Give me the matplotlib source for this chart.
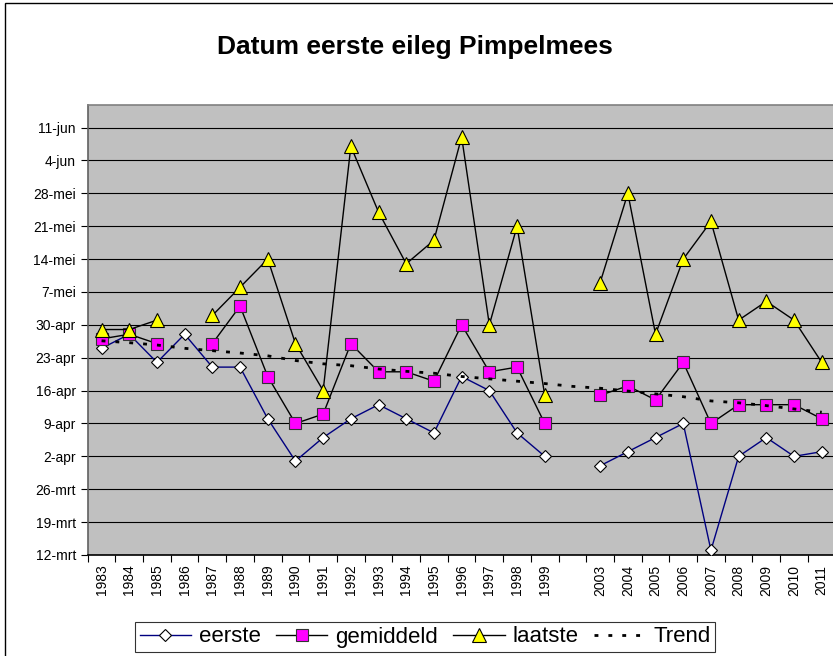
import numpy as np
import matplotlib.pyplot as plt
from matplotlib.patches import Rectangle

plt.rcParams['font.family'] = ['Liberation Sans', 'DejaVu Sans']

# categorieen (lege plek tussen 1999 en 2003)
jaren = ['1983', '1984', '1985', '1986', '1987', '1988', '1989', '1990', '1991',
         '1992', '1993', '1994', '1995', '1996', '1997', '1998', '1999', '',
         '2003', '2004', '2005', '2006', '2007', '2008', '2009', '2010', '2011']

eerste = ['25-apr', '28-apr', '22-apr', '28-apr', '21-apr', '21-apr', '10-apr', '1-apr',
          '6-apr', '10-apr', '13-apr', '10-apr', '7-apr', '19-apr', '16-apr', '7-apr',
          '2-apr', None, '31-mrt', '3-apr', '6-apr', '9-apr', '13-mrt', '2-apr',
          '6-apr', '2-apr', '3-apr']
gemiddeld = ['27-apr', '28-apr', '26-apr', None, '26-apr', '4-mei', '19-apr', '9-apr',
             '11-apr', '26-apr', '20-apr', '20-apr', '18-apr', '30-apr', '20-apr', '21-apr',
             '9-apr', None, '15-apr', '17-apr', '14-apr', '22-apr', '9-apr', '13-apr',
             '13-apr', '13-apr', '10-apr']
laatste = ['29-apr', '29-apr', '1-mei', None, '2-mei', '8-mei', '14-mei', '26-apr',
           '16-apr', '7-jun', '24-mei', '13-mei', '18-mei', '9-jun', '30-apr', '21-mei',
           '15-apr', None, '9-mei', '28-mei', '28-apr', '14-mei', '22-mei', '1-mei',
           '5-mei', '1-mei', '22-apr']
# trend in dagnummer van het jaar
trend = [116.6, 116.2, 115.7, 115.0, 114.5, 114.0, 113.4, 112.4, 111.7, 111.3, 110.6,
         110.1, 109.7, 109.0, 108.5, 108.0, 107.5, 106.9, 106.5, 105.9, 105.3, 104.7,
         103.8, 103.4, 102.8, 102.1, 101.4]

y_labels = ['12-mrt', '19-mrt', '26-mrt', '2-apr', '9-apr', '16-apr', '23-apr',
            '30-apr', '7-mei', '14-mei', '21-mei', '28-mei', '4-jun', '11-jun']

maanden = {'jan': 0, 'feb': 31, 'mrt': 59, 'apr': 90, 'mei': 120, 'jun': 151}


def dagnr(s):
    if s is None:
        return np.nan
    d, m = s.split('-')
    return maanden[m] + int(d)


x = np.arange(len(jaren))

fig = plt.figure(figsize=(8.33, 6.56), dpi=100)
ax = fig.add_axes([87.7 / 833, 1 - 555 / 656, (835.6 - 87.7) / 833, (555 - 105) / 656])
ax.set_facecolor('#c0c0c0')

ax.plot(x, [dagnr(v) for v in eerste], color='#000080', lw=1, marker='D', ms=6,
        mfc='white', mec='black', mew=0.8, label='eerste', zorder=3)
ax.plot(x, [dagnr(v) for v in gemiddeld], color='black', lw=1, marker='s', ms=8.5,
        mfc='#ff00ff', mec='#333333', mew=0.8, label='gemiddeld', zorder=4)
ax.plot(x, [dagnr(v) for v in laatste], color='black', lw=1, marker='^', ms=9.5,
        mfc='#ffff00', mec='black', mew=0.8, label='laatste', zorder=5)
ax.plot(x, trend, color='black', lw=2, linestyle=(0, (1.4, 3.6)), label='Trend', zorder=6)

ax.set_xlim(-0.5, len(jaren) - 0.5)
ax.set_ylim(71, 166.8)

yt = [dagnr(s) for s in y_labels]
ax.set_yticks(yt)
ax.set_yticklabels(y_labels, fontsize=10)
ax.yaxis.grid(True, color='black', lw=0.8)
ax.set_axisbelow(True)

ax.set_xticks(np.arange(len(jaren) + 1) - 0.5)
ax.set_xticklabels([])
ax.set_xticks(x, minor=True)
ax.set_xticklabels(jaren, minor=True, rotation=90, fontsize=10)
ax.tick_params(axis='x', which='minor', length=0, pad=7)
ax.tick_params(axis='both', which='major', length=5, width=0.8, direction='out')

for s in ax.spines.values():
    s.set_color('#808080')
    s.set_linewidth(1.2)
ax.spines['bottom'].set_color('black')
ax.spines['left'].set_color('#606060')

fig.text(415 / 833, 1 - 47 / 656, 'Datum eerste eileg Pimpelmees', ha='center',
         va='center', fontsize=19, fontweight='bold')

leg = fig.legend(loc='center', bbox_to_anchor=(425 / 833, 1 - 637 / 656), ncol=4,
                 fontsize=16, frameon=True, fancybox=False, handlelength=2.3,
                 handletextpad=0.36, columnspacing=0.7, borderpad=0.2,
                 borderaxespad=0)
leg.get_frame().set_edgecolor('black')
leg.get_frame().set_linewidth(0.8)

fig.patches.append(Rectangle((5 / 833, -0.1), 1.2, 1 - 3 / 656 + 0.1, transform=fig.transFigure,
                             fill=False, edgecolor='black', lw=1))

fig.savefig('out.png', dpi=100)
